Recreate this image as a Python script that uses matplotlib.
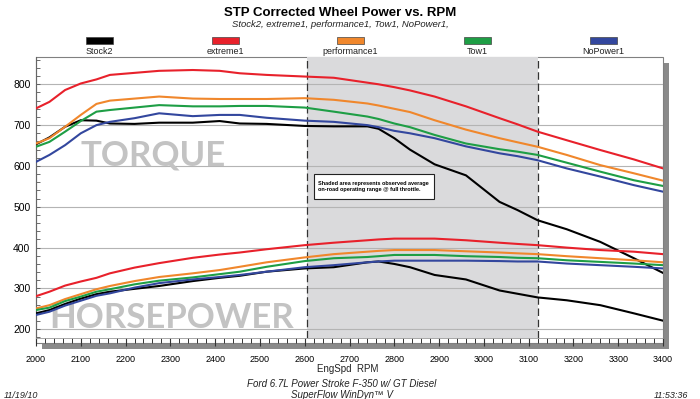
import numpy as np
import matplotlib
matplotlib.use("Agg")
import matplotlib.pyplot as plt
from matplotlib.patches import Rectangle
from matplotlib.ticker import MultipleLocator

plt.rcParams["font.family"] = ["Liberation Sans", "DejaVu Sans"]

# engine speed samples (rpm)
rpm = [2000, 2030, 2065, 2100, 2135, 2165, 2220, 2275, 2350, 2410, 2455, 2515, 2600, 2665,
       2740, 2765, 2800, 2835, 2890, 2960, 3035, 3075, 3120, 3185, 3260, 3335, 3400]

series_names = ["Stock2", "extreme1", "performance1", "Tow1", "NoPower1"]
series_colors = ["#000000", "#e8212b", "#f0872c", "#1e9e45", "#33479e"]

# torque (lb-ft)
tq_stock2 = [653, 670, 696, 712, 711, 704, 703, 706, 706, 710, 704, 703, 698, 697,
             697, 691, 668, 640, 604, 577, 512, 492, 467, 445, 414, 374, 338]
tq_extreme1 = [741, 757, 786, 802, 812, 823, 828, 833, 835, 833, 827, 823, 819, 816,
               804, 800, 793, 785, 770, 746, 717, 702, 684, 663, 639, 616, 594]
tq_performance1 = [655, 668, 696, 725, 752, 760, 765, 770, 765, 764, 764, 764, 766, 762,
                   753, 748, 740, 732, 712, 689, 668, 658, 647, 627, 602, 582, 564]
tq_tow1 = [647, 659, 684, 710, 733, 737, 743, 749, 746, 746, 747, 747, 743, 733,
           721, 715, 704, 695, 676, 655, 641, 635, 627, 608, 586, 565, 551]
tq_nopower1 = [610, 627, 651, 680, 700, 708, 717, 729, 722, 725, 725, 718, 711, 708,
               700, 695, 686, 680, 668, 648, 631, 624, 614, 594, 574, 553, 537]

# horsepower
hp_stock2 = [239, 247, 262, 275, 286, 292, 299, 306, 318, 326, 331, 341, 349, 352,
             364, 366, 360, 352, 333, 322, 295, 287, 278, 271, 259, 239, 221]
hp_extreme1 = [281, 292, 307, 317, 326, 337, 351, 362, 375, 383, 388, 396, 406, 412,
               418, 420, 422, 422, 422, 418, 412, 409, 406, 400, 394, 390, 384]
hp_performance1 = [251, 259, 274, 286, 298, 306, 318, 328, 337, 345, 353, 364, 376, 384,
                   390, 392, 394, 394, 394, 391, 388, 386, 384, 379, 374, 369, 364]
hp_tow1 = [247, 253, 269, 280, 292, 298, 310, 319, 327, 335, 341, 353, 367, 374,
           377, 379, 382, 382, 382, 379, 377, 375, 374, 369, 365, 361, 357]
hp_nopower1 = [235, 243, 258, 270, 282, 288, 302, 313, 322, 328, 333, 341, 352, 357,
               364, 366, 368, 368, 368, 368, 367, 366, 366, 361, 357, 353, 349]

torque = [tq_stock2, tq_extreme1, tq_performance1, tq_tow1, tq_nopower1]
horsepower = [hp_stock2, hp_extreme1, hp_performance1, hp_tow1, hp_nopower1]

shade_range = (2605, 3120)
note_text = "Shaded area represents observed average\non-road operating range @ full throttle."

W, H = 700, 399


def fx(px):
    return px / W


def fy(py):
    return 1 - py / H


fig = plt.figure(figsize=(7.0, 3.99), dpi=100)

# frame with drop shadow (drawn under the axes)
fig.patches.append(Rectangle((fx(42), fy(349)), fx(669) - fx(42), fy(63) - fy(349),
                             transform=fig.transFigure, facecolor="#8a8a8a", edgecolor="none", zorder=-2))
fig.patches.append(Rectangle((fx(36), fy(343)), fx(663) - fx(36), fy(56.7) - fy(343),
                             transform=fig.transFigure, facecolor="white", edgecolor="#808080",
                             linewidth=0.8, zorder=-1))

ax = fig.add_axes([fx(36), fy(338), fx(663) - fx(36), fy(56.7) - fy(338)])
ax.set_facecolor("none")
ax.set_xlim(2000, 3400)
ax.set_ylim(178.6, 867.6)

ax.axvspan(*shade_range, color="#dadadc", zorder=0.2, linewidth=0)
for xv in shade_range:
    ax.axvline(xv, color="#333333", linestyle=(0, (6, 3)), linewidth=0.9, zorder=2)

ax.set_axisbelow(True)
ax.yaxis.set_major_locator(MultipleLocator(100))
ax.yaxis.set_minor_locator(MultipleLocator(20))
ax.xaxis.set_major_locator(MultipleLocator(100))
ax.xaxis.set_minor_locator(MultipleLocator(20))
ax.grid(axis="y", color="#b4b4b4", linewidth=0.8)
ax.set_yticks([200, 300, 400, 500, 600, 700, 800])

ax.tick_params(axis="y", which="both", direction="in", length=3, width=0.6, color="#555555",
               labelsize=7.5, pad=4)
ax.tick_params(axis="x", which="major", direction="out", length=6, width=0.8, color="#333333",
               labelsize=6.5, pad=6)
ax.tick_params(axis="x", which="minor", direction="out", length=3.5, width=0.7, color="#333333")

for s in ["top", "right"]:
    ax.spines[s].set_visible(False)
ax.spines["left"].set_color("#666666")
ax.spines["left"].set_linewidth(0.8)
ax.spines["bottom"].set_color("#999999")
ax.spines["bottom"].set_linewidth(0.6)

ax.text(2262, 602, "TORQUE", family=["Lato", "Liberation Sans"], weight="bold", fontsize=25,
        color="#c3c3c3", ha="center", va="baseline", zorder=1)
ax.text(2303, 202, "HORSEPOWER", family=["Lato", "Liberation Sans"], weight="bold", fontsize=25,
        color="#c3c3c3", ha="center", va="baseline", zorder=1)

for tq, hp, c in zip(torque, horsepower, series_colors):
    ax.plot(rpm, tq, color=c, linewidth=1.5, zorder=3)
    ax.plot(rpm, hp, color=c, linewidth=1.5, zorder=3)

# note box
ax.add_patch(Rectangle((2621, 518.3), 268, 61.7, facecolor="white", edgecolor="#222222",
                       linewidth=0.8, zorder=4))
ax.text(2630, 550, note_text, weight="bold", fontsize=4.0, ha="left", va="center",
        linespacing=1.25, zorder=5)

# titles
fig.text(fx(340), fy(13), "STP Corrected Wheel Power vs. RPM", weight="bold", fontsize=9.5,
         ha="center", va="center")
fig.text(fx(340), fy(24.5), ", ".join(series_names) + ",", style="italic", fontsize=6.8,
         color="#222222", ha="center", va="center")

# legend swatches
legend_x = [99, 225.5, 350.5, 477, 603]
for name, c, cx in zip(series_names, series_colors, legend_x):
    fig.patches.append(Rectangle((fx(cx - 13.5), fy(44.3)), fx(27), fy(36.7) - fy(44.3),
                                 transform=fig.transFigure, facecolor=c, edgecolor="#444444",
                                 linewidth=0.5, zorder=2))
    fig.text(fx(cx), fy(51.5), name, fontsize=6.5, ha="center", va="center", color="#222222")

# bottom texts
fig.text(fx(348), fy(369), "EngSpd  RPM", fontsize=7, ha="center", va="center", color="#222222")
fig.text(fx(342), fy(384), "Ford 6.7L Power Stroke F-350 w/ GT Diesel", style="italic",
         fontsize=7, ha="center", va="center", color="#222222")
fig.text(fx(342), fy(395), "SuperFlow WinDyn\u2122 V", style="italic", fontsize=7,
         ha="center", va="center", color="#222222")
fig.text(fx(4), fy(395), "11/19/10", style="italic", fontsize=6.5, ha="left", va="center",
         color="#222222")
fig.text(fx(688), fy(395), "11:53:36", style="italic", fontsize=6.5, ha="right", va="center",
         color="#222222")

fig.savefig("out.png", dpi=100)
